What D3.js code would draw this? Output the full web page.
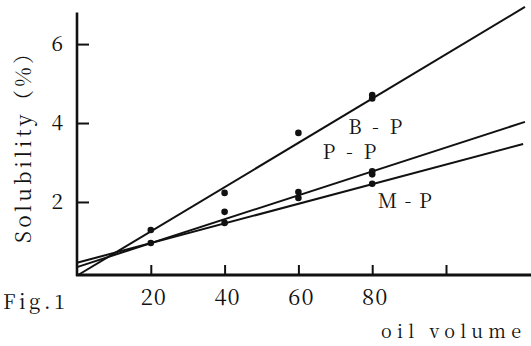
<!DOCTYPE html>
<html>
<head>
<meta charset="utf-8">
<script src="https://cdn.jsdelivr.net/npm/d3@7"></script>
<style>
  html, body { margin: 0; padding: 0; background: #fff; }
  svg { display: block; }
  svg text { font-family: "Noto Serif CJK JP", "Liberation Serif", serif; fill: #111; }
</style>
</head>
<body>
<svg id="chart" width="531" height="346"></svg>
<script>
// ---------------------------------------------------------------------------
// DATA
// ---------------------------------------------------------------------------

const xTicks = [20, 40, 60, 80, 100];
const xTickLabels = ['20', '40', '60', '80', ''];
const yTicks = [2, 4, 6];

// measured points, [oil volume, solubility %]
const bpPoints = [[20, 1.29], [40, 2.23], [60, 3.75], [80, 4.62], [80, 4.71]];
const ppPoints = [[40, 1.75], [60, 2.25], [80, 2.70], [80, 2.78]];
const mpPoints = [[20, 0.96], [40, 1.47], [60, 2.10], [80, 2.46]];

// fitted lines, drawn end to end
const bpLine = [[0.3, 0.15], [121.4, 6.94]];
const ppLine = [[0, 0.35], [121.4, 4.03]];
const mpLine = [[0, 0.46], [120.9, 3.47]];

const seriesNames = ['B - P', 'P - P', 'M - P'];

// ---------------------------------------------------------------------------
// SCALES
// ---------------------------------------------------------------------------

const svg = d3.select('#chart');

const x = d3.scaleLinear().domain([0, 100]).range([77, 446]);
const y = d3.scaleLinear().domain([0.15, 6.8]).range([275, 12.5]);

const xMax = x.invert(531);

// ---------------------------------------------------------------------------
// AXES
// ---------------------------------------------------------------------------

// y axis, ticks pointing into the plot
const yAxis = d3.axisRight(y)
  .tickValues(yTicks)
  .tickSize(12)
  .tickFormat('');

svg.append('g')
  .attr('transform', `translate(${x(0)},0)`)
  .call(yAxis)
  .call(g => g.select('.domain').remove())
  .call(g => g.selectAll('.tick line').attr('stroke', '#111').attr('stroke-width', 2));

svg.append('line')
  .attr('x1', x(0)).attr('x2', x(0))
  .attr('y1', y.range()[1]).attr('y2', y.range()[0] + 1)
  .attr('stroke', '#111').attr('stroke-width', 2.6);

svg.selectAll('.ylab')
  .data(yTicks)
  .join('text')
  .attr('class', 'ylab')
  .attr('x', x(0) - 14)
  .attr('y', d => y(d) + 7)
  .attr('text-anchor', 'end')
  .attr('font-size', 21)
  .text(d => d);

// x axis, ticks pointing up
const xAxis = d3.axisTop(x)
  .tickValues(xTicks)
  .tickSize(10)
  .tickFormat('');

svg.append('g')
  .attr('transform', `translate(0,${y(0.15)})`)
  .call(xAxis)
  .call(g => g.select('.domain').remove())
  .call(g => g.selectAll('.tick line').attr('stroke', '#111').attr('stroke-width', 2));

svg.append('line')
  .attr('x1', x(0) - 1).attr('x2', x(xMax))
  .attr('y1', y(0.15)).attr('y2', y(0.15))
  .attr('stroke', '#111').attr('stroke-width', 3);

svg.selectAll('.xlab')
  .data(xTicks.map((d, i) => ({ v: d, label: xTickLabels[i] })))
  .join('text')
  .attr('class', 'xlab')
  .attr('x', d => x(d.v) + 3)
  .attr('y', 305)
  .attr('text-anchor', 'middle')
  .attr('font-size', 22)
  .attr('letter-spacing', 1)
  .text(d => d.label);

// ---------------------------------------------------------------------------
// LINES + POINTS
// ---------------------------------------------------------------------------

const line = d3.line().x(d => x(d[0])).y(d => y(d[1]));

svg.selectAll('.fit')
  .data([bpLine, ppLine, mpLine])
  .join('path')
  .attr('class', 'fit')
  .attr('d', line)
  .attr('fill', 'none')
  .attr('stroke', '#111')
  .attr('stroke-width', 2);

svg.selectAll('.pt')
  .data([...bpPoints, ...ppPoints, ...mpPoints])
  .join('circle')
  .attr('class', 'pt')
  .attr('cx', d => x(d[0]))
  .attr('cy', d => y(d[1]))
  .attr('r', 3.3)
  .attr('fill', '#111');

// series labels
const labelPos = [[73.5, 3.72], [66.5, 3.1], [81.5, 1.85]];
svg.selectAll('.slab')
  .data(seriesNames)
  .join('text')
  .attr('class', 'slab')
  .attr('x', (d, i) => x(labelPos[i][0]))
  .attr('y', (d, i) => y(labelPos[i][1]))
  .attr('font-size', 20)
  .attr('textLength', 54)
  .attr('lengthAdjust', 'spacing')
  .text(d => d);

// ---------------------------------------------------------------------------
// TITLES
// ---------------------------------------------------------------------------

svg.append('text')
  .attr('transform', 'translate(31,143) rotate(-90)')
  .attr('text-anchor', 'middle')
  .attr('font-size', 21)
  .attr('textLength', 200)
  .attr('lengthAdjust', 'spacing')
  .text('Solubility（%）');

svg.append('text')
  .attr('x', 381)
  .attr('y', 338)
  .attr('font-size', 18)
  .attr('textLength', 140)
  .attr('lengthAdjust', 'spacing')
  .text('oil volume');

svg.append('text')
  .attr('x', 3)
  .attr('y', 309)
  .attr('font-size', 20)
  .attr('textLength', 62)
  .attr('lengthAdjust', 'spacing')
  .text('Fig.1');
</script>
</body>
</html>
